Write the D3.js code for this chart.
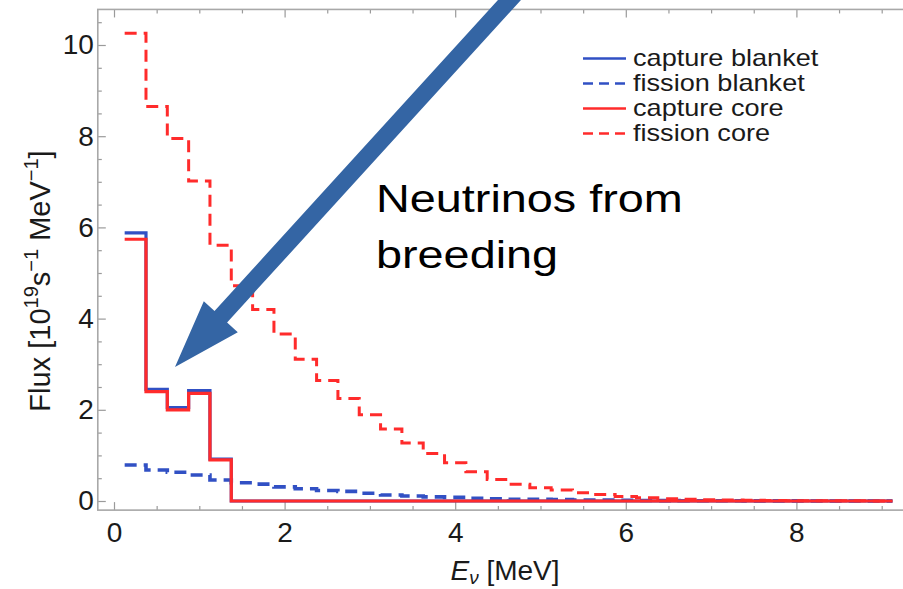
<!DOCTYPE html>
<html>
<head>
<meta charset="utf-8">
<script src="https://cdn.jsdelivr.net/npm/d3@7/dist/d3.min.js"></script>
<style>
  html, body { margin: 0; padding: 0; background: #fff; }
  svg { display: block; font-family: "Liberation Sans", Arial, Helvetica, sans-serif; }
</style>
</head>
<body>
<svg id="chart" width="903" height="589"></svg>
<script>
// ---------------- data ----------------
const binCenters = [0.25, 0.5, 0.75, 1.0, 1.25, 1.5, 1.75, 2.0, 2.25, 2.5, 2.75, 3.0,
                    3.25, 3.5, 3.75, 4.0, 4.25, 4.5, 4.75, 5.0, 5.25, 5.5, 5.75, 6.0,
                    6.25, 6.5, 6.75, 7.0, 7.25, 7.5, 7.75, 8.0, 8.25, 8.5, 8.75, 9.0];
const binWidth = 0.25;

const captureBlanket = [5.88, 2.45, 2.05, 2.42, 0.92, 0, 0, 0, 0, 0, 0, 0,
                        0, 0, 0, 0, 0, 0, 0, 0, 0, 0, 0, 0,
                        0, 0, 0, 0, 0, 0, 0, 0, 0, 0, 0, 0];
const fissionBlanket = [0.79, 0.68, 0.63, 0.57, 0.46, 0.40, 0.37, 0.31, 0.27, 0.23, 0.21, 0.17,
                        0.13, 0.11, 0.09, 0.08, 0.06, 0.05, 0.04, 0.035, 0.03, 0.02, 0.02, 0.015,
                        0.01, 0.008, 0.006, 0.005, 0.004, 0.003, 0.002, 0.002, 0.001, 0.001, 0.001, 0.0];
const captureCore = [5.74, 2.40, 2.00, 2.36, 0.90, 0, 0, 0, 0, 0, 0, 0,
                     0, 0, 0, 0, 0, 0, 0, 0, 0, 0, 0, 0,
                     0, 0, 0, 0, 0, 0, 0, 0, 0, 0, 0, 0];
const fissionCore = [10.26, 8.65, 7.95, 7.02, 5.61, 4.72, 4.20, 3.66, 3.11, 2.64, 2.25, 1.89,
                     1.58, 1.27, 1.04, 0.84, 0.64, 0.47, 0.37, 0.29, 0.24, 0.18, 0.14, 0.10,
                     0.07, 0.05, 0.04, 0.03, 0.02, 0.015, 0.01, 0.008, 0.005, 0.004, 0.003, 0.002];

const seriesNames = ["capture blanket", "fission blanket", "capture core", "fission core"];
const seriesColors = ["#3150c4", "#3150c4", "#ff2b2b", "#ff2b2b"];
const seriesDashed = [false, true, false, true];

const xMajorTicks = [0, 2, 4, 6, 8];
const xMinorTicks = [0.5, 1, 1.5, 2.5, 3, 3.5, 4.5, 5, 5.5, 6.5, 7, 7.5, 8.5, 9];
const yMajorTicks = [0, 2, 4, 6, 8, 10];
const yMinorTicks = [0.5, 1, 1.5, 2.5, 3, 3.5, 4.5, 5, 5.5, 6.5, 7, 7.5, 8.5, 9, 9.5, 10.5];

// annotation arrow (data units): start (off top) -> tip
const arrowStart = [4.74, 11.2];
const arrowTip = [0.715, 2.94];
const annotationLines = ["Neutrinos from", "breeding"];

// ---------------- chart ----------------
const svg = d3.select("#chart");
const x = d3.scaleLinear().domain([0, 8]).range([114, 796.4]);
const y = d3.scaleLinear().domain([0, 10]).range([501, 45]);
const xMin = -0.19, xMax = 9.35, yMin = -0.2, yMax = 10.78;
const pLeft = x(xMin), pRight = x(xMax), pTop = y(yMax), pBottom = y(yMin);

svg.append("defs").append("clipPath").attr("id", "plotclip")
  .append("rect").attr("x", pLeft).attr("y", pTop).attr("width", pRight - pLeft).attr("height", pBottom - pTop);

// axes (ticks inward)
const tickColor = "#9a9a9a";
function styleAxis(g) {
  g.select(".domain").remove();
  g.selectAll(".tick line").attr("stroke", tickColor).attr("stroke-width", 1.2);
  g.selectAll(".tick text").attr("fill", "#1a1a1a").attr("font-size", 28)
    .attr("font-family", "'Liberation Sans', Arial, sans-serif");
}
svg.append("g").attr("transform", `translate(${pLeft},0)`)
  .call(d3.axisLeft(y).tickValues(yMajorTicks).tickSize(-8).tickPadding(4).tickFormat(d3.format("d")))
  .call(styleAxis);
svg.append("g").attr("transform", `translate(${pLeft},0)`)
  .call(d3.axisLeft(y).tickValues(yMinorTicks).tickSize(-4).tickFormat(""))
  .call(styleAxis);
svg.append("g").attr("transform", `translate(0,${pBottom})`)
  .call(d3.axisBottom(x).tickValues(xMajorTicks).tickSize(-8).tickPadding(12).tickFormat(d3.format("d")))
  .call(styleAxis);
svg.append("g").attr("transform", `translate(0,${pBottom})`)
  .call(d3.axisBottom(x).tickValues(xMinorTicks).tickSize(-4).tickFormat(""))
  .call(styleAxis);
svg.append("g").attr("transform", `translate(0,${pTop})`)
  .call(d3.axisTop(x).tickValues(xMajorTicks).tickSize(-8).tickFormat(""))
  .call(styleAxis);
svg.append("g").attr("transform", `translate(0,${pTop})`)
  .call(d3.axisTop(x).tickValues(xMinorTicks).tickSize(-4).tickFormat(""))
  .call(styleAxis);

// frame
svg.append("rect").attr("x", pLeft).attr("y", pTop).attr("width", pRight - pLeft).attr("height", pBottom - pTop)
  .attr("fill", "none").attr("stroke", "#a8a8a8").attr("stroke-width", 1.6);

// step lines
const allSeries = [captureBlanket, fissionBlanket, captureCore, fissionCore];
function stepPoints(vals) {
  const pts = binCenters.map((c, i) => [c - binWidth / 2, vals[i]]);
  pts.push([binCenters[binCenters.length - 1] + binWidth / 2, vals[vals.length - 1]]);
  return pts;
}
const line = d3.line().x(d => x(d[0])).y(d => y(d[1])).curve(d3.curveStepAfter);
const plot = svg.append("g").attr("clip-path", "url(#plotclip)");
const drawOrder = [1, 0, 2, 3];
const widths = [3.2, 3.6, 3.2, 3.0];
drawOrder.forEach(i => {
  plot.append("path")
    .attr("d", line(stepPoints(allSeries[i])))
    .attr("fill", "none")
    .attr("stroke", seriesColors[i])
    .attr("stroke-width", widths[i])
    .attr("stroke-linejoin", "miter")
    .attr("stroke-dasharray", seriesDashed[i] ? "12,7" : null);
});

// legend
const legend = svg.append("g");
const legendY0 = 58.5, legendDy = 25;
seriesNames.forEach((name, i) => {
  const ly = legendY0 + i * legendDy;
  legend.append("line").attr("x1", 583).attr("x2", 626).attr("y1", ly).attr("y2", ly)
    .attr("stroke", seriesColors[i]).attr("stroke-width", 2.6)
    .attr("stroke-dasharray", seriesDashed[i] ? "10,6" : null);
  legend.append("g").attr("transform", `translate(633,${ly + 7.5}) scale(1.13,1)`)
    .append("text").attr("x", 0).attr("y", 0).attr("font-size", 24).attr("fill", "#1a1a1a")
    .text(name);
});

// axis labels
const xl = svg.append("text").attr("x", 505).attr("y", 580).attr("text-anchor", "middle")
  .attr("font-size", 28).attr("fill", "#1a1a1a");
xl.append("tspan").attr("font-style", "italic").text("E");
xl.append("tspan").attr("font-style", "italic").attr("font-size", 19).attr("dy", 4).text("ν");
xl.append("tspan").attr("dy", -4).text(" [MeV]");

const yl = svg.append("text").attr("transform", "translate(50,281) rotate(-90)")
  .attr("text-anchor", "middle").attr("font-size", 29).attr("fill", "#1a1a1a");
yl.append("tspan").text("Flux [10");
yl.append("tspan").attr("font-size", 20).attr("dy", -12).text("19");
yl.append("tspan").attr("dy", 12).text("s");
yl.append("tspan").attr("font-size", 20).attr("dy", -12).text("−1");
yl.append("tspan").attr("dy", 12).text(" MeV");
yl.append("tspan").attr("font-size", 20).attr("dy", -12).text("−1");
yl.append("tspan").attr("dy", 12).text("]");

// annotation arrow
(function () {
  const sx = x(arrowStart[0]), sy = y(arrowStart[1]);
  const tx = x(arrowTip[0]), ty = y(arrowTip[1]);
  const dx = tx - sx, dy = ty - sy, L = Math.hypot(dx, dy);
  const ux = dx / L, uy = dy / L, px = -uy, py = ux;
  const headLen = 68, headHalf = 23, shaftHalf = 8.5;
  const bx = tx - ux * headLen, by = ty - uy * headLen;
  const pts = [
    [sx + px * shaftHalf, sy + py * shaftHalf],
    [bx + px * shaftHalf, by + py * shaftHalf],
    [bx + px * headHalf, by + py * headHalf],
    [tx, ty],
    [bx - px * headHalf, by - py * headHalf],
    [bx - px * shaftHalf, by - py * shaftHalf],
    [sx - px * shaftHalf, sy - py * shaftHalf]
  ];
  svg.append("path").attr("d", "M" + pts.map(p => p.join(",")).join("L") + "Z")
    .attr("fill", "#3465a4");
})();

// annotation text
annotationLines.forEach((t, i) => {
  svg.append("g").attr("transform", `translate(376,${212 + i * 56}) scale(1.2,1)`)
    .append("text").attr("font-size", 39).attr("fill", "#000").text(t);
});
</script>
</body>
</html>
